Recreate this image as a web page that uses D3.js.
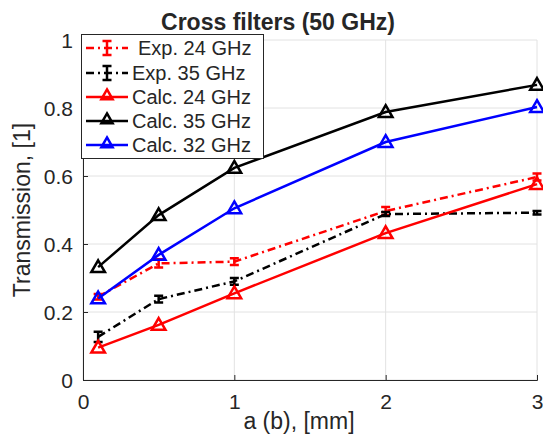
<!DOCTYPE html>
<html>
<head>
<meta charset="utf-8">
<script src="https://cdn.jsdelivr.net/npm/d3@7"></script>
<style>
  body { margin: 0; background: #fff; }
  text { font-family: "Liberation Sans", Arial, Helvetica, sans-serif; fill: #262626; }
</style>
</head>
<body>
<svg id="chart" width="543" height="442"></svg>
<script>
// data
var xs = [0.1, 0.5, 1, 2, 3];
var exp24 = [0.245, 0.343, 0.348, 0.497, 0.597];
var exp24Err = [0.008, 0.012, 0.01, 0.012, 0.01];
var exp35 = [0.127, 0.238, 0.29, 0.488, 0.492];
var exp35Err = [0.015, 0.01, 0.01, 0.006, 0.005];
var calc24 = [0.095, 0.162, 0.255, 0.432, 0.576];
var calc35 = [0.332, 0.485, 0.624, 0.788, 0.868];
var calc32 = [0.24, 0.368, 0.505, 0.7, 0.803];
var xTicks = [0, 1, 2, 3];
var yTicks = [0, 0.2, 0.4, 0.6, 0.8, 1];

var series = [
  { name: 'Exp. 24 GHz', values: exp24, err: exp24Err, color: '#ff0000', dash: '8,4,2,4', marker: 'bar' },
  { name: 'Exp. 35 GHz', values: exp35, err: exp35Err, color: '#000000', dash: '8,4,2,4', marker: 'bar' },
  { name: 'Calc. 24 GHz', values: calc24, color: '#ff0000', dash: null, marker: 'tri' },
  { name: 'Calc. 35 GHz', values: calc35, color: '#000000', dash: null, marker: 'tri' },
  { name: 'Calc. 32 GHz', values: calc32, color: '#0000ff', dash: null, marker: 'tri' }
];

var svg = d3.select('#chart');
var x = d3.scaleLinear().domain([0, 3]).range([83, 537]);
var y = d3.scaleLinear().domain([0, 1]).range([380, 40]);

// grid
svg.append('g').selectAll('line.vx').data(xTicks).enter().append('line')
  .attr('x1', function(d) { return x(d); }).attr('x2', function(d) { return x(d); })
  .attr('y1', y(0)).attr('y2', y(1))
  .attr('stroke', '#e2e2e2').attr('stroke-width', 1);
svg.append('g').selectAll('line.hy').data(yTicks).enter().append('line')
  .attr('x1', x(0)).attr('x2', x(3))
  .attr('y1', function(d) { return y(d); }).attr('y2', function(d) { return y(d); })
  .attr('stroke', '#e2e2e2').attr('stroke-width', 1);

// axes (ticks inside, like matlab)
var xAxis = d3.axisBottom(x).tickValues(xTicks).tickSize(-5).tickPadding(14).tickFormat(d3.format('d'));
var yAxis = d3.axisLeft(y).tickValues(yTicks).tickSize(-5).tickPadding(10).tickFormat(function(d) { return d === 0 || d === 1 ? d : d3.format('.1f')(d); });

var gx = svg.append('g').attr('transform', 'translate(0,' + y(0) + ')').call(xAxis);
var gy = svg.append('g').attr('transform', 'translate(' + x(0) + ',0)').call(yAxis);
[gx, gy].forEach(function(g) {
  g.select('.domain').attr('stroke', '#262626');
  g.selectAll('.tick line').attr('stroke', '#262626');
  g.selectAll('.tick text').style('font-size', '21px').attr('fill', '#262626')
    .style('font-family', '"Liberation Sans", Arial, sans-serif');
});
gy.selectAll('.tick text').attr('dy', '0.36em');

var line = d3.line()
  .x(function(d, i) { return x(xs[i]); })
  .y(function(d) { return y(d); });

var tri = d3.symbol().type(d3.symbolTriangle).size(80);
var triSmall = d3.symbol().type(d3.symbolTriangle).size(55);

function errPath(cx, lo, hi) {
  return 'M' + cx + ',' + lo + 'V' + hi +
    'M' + (cx - 4.5) + ',' + lo + 'H' + (cx + 4.5) +
    'M' + (cx - 4.5) + ',' + hi + 'H' + (cx + 4.5);
}

series.forEach(function(s) {
  var g = svg.append('g');
  g.append('path').attr('d', line(s.values))
    .attr('fill', 'none').attr('stroke', s.color).attr('stroke-width', 2.5)
    .attr('stroke-dasharray', s.dash);
  if (s.marker === 'bar') {
    s.values.forEach(function(v, i) {
      g.append('path')
        .attr('d', errPath(x(xs[i]), y(v - s.err[i]), y(v + s.err[i])))
        .attr('fill', 'none').attr('stroke', s.color).attr('stroke-width', 2.5);
    });
  } else {
    g.selectAll('path.m').data(s.values).enter().append('path')
      .attr('d', tri)
      .attr('transform', function(d, i) { return 'translate(' + x(xs[i]) + ',' + (y(d) + 1) + ')'; })
      .attr('fill', 'none').attr('stroke', s.color).attr('stroke-width', 2.5);
  }
});

// title and axis labels
svg.append('text').attr('x', 278).attr('y', 30).attr('text-anchor', 'middle')
  .style('font-size', '23px').style('font-weight', 'bold').attr('fill', '#000')
  .text('Cross filters (50 GHz)');
svg.append('text').attr('x', 299).attr('y', 429).attr('text-anchor', 'middle')
  .style('font-size', '23px').text('a (b), [mm]');
svg.append('text').attr('transform', 'translate(30,210) rotate(-90)').attr('text-anchor', 'middle')
  .style('font-size', '23px').text('Transmission, [1]');

// legend
var leg = svg.append('g');
leg.append('rect').attr('x', 81.5).attr('y', 34.5).attr('width', 182).attr('height', 124)
  .attr('fill', '#fff').attr('stroke', '#262626').attr('stroke-width', 1);
var rowY = [48, 73, 97, 121, 145];
series.forEach(function(s, i) {
  var ly = rowY[i], x0 = 86, x1 = 128, cx = (x0 + x1) / 2;
  leg.append('line').attr('x1', x0).attr('x2', x1).attr('y1', ly).attr('y2', ly)
    .attr('stroke', s.color).attr('stroke-width', 2.5).attr('stroke-dasharray', s.dash);
  if (s.marker === 'bar') {
    leg.append('path').attr('d', errPath(cx, ly - 7, ly + 7))
      .attr('fill', 'none').attr('stroke', s.color).attr('stroke-width', 2.5);
  } else {
    leg.append('path').attr('d', triSmall).attr('transform', 'translate(' + cx + ',' + (ly - 1) + ')')
      .attr('fill', 'none').attr('stroke', s.color).attr('stroke-width', 2.5);
  }
  leg.append('text').attr('x', i === 0 ? 138 : 132).attr('y', ly + 7)
    .style('font-size', '20px').attr('fill', '#000').text(s.name);
});
</script>
</body>
</html>
